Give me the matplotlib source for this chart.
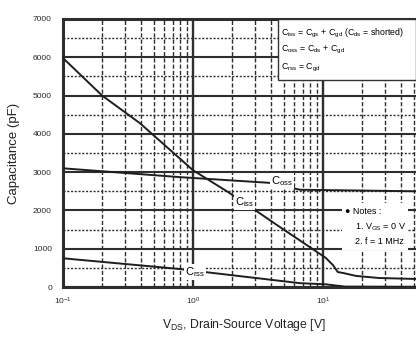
import matplotlib
matplotlib.use("Agg")
import matplotlib.pyplot as plt
from matplotlib.ticker import MultipleLocator, LogLocator, FixedLocator, NullFormatter
from matplotlib.patches import Rectangle

plt.rcParams['font.family'] = ['Liberation Sans', 'DejaVu Sans']
plt.rcParams['mathtext.fontset'] = 'custom'
plt.rcParams['mathtext.rm'] = 'Liberation Sans'
plt.rcParams['mathtext.it'] = 'Liberation Sans:italic'

# Data
ciss_v = [0.1, 0.2, 0.39, 1.0, 1.86, 3.0, 4.2, 10.5, 11.9, 13.0, 14.3, 17.9, 26.9, 52.0]
ciss_c = [5980, 5000, 4280, 3050, 2480, 2010, 1670, 760, 575, 390, 365, 290, 235, 210]
coss_v = [0.1, 0.79, 3.9, 6.65, 52.0]
coss_c = [3100, 2870, 2720, 2540, 2500]
crss_v = [0.1, 0.79, 1.24, 6.65, 10.5, 14.8, 52.0]
crss_c = [750, 470, 390, 100, 70, 10, 5]

yticks = [0, 1000, 2000, 3000, 4000, 5000, 6000, 7000]
ytick_labels = ['0', '1000', '2000', '3000', '4000', '5000', '6000', '7000']
xticks = [0.1, 1, 10]
xtick_labels = [r'$10^{-1}$', r'$10^{0}$', r'$10^{1}$']

fig = plt.figure(figsize=(4.16, 3.39), dpi=100)
ax = fig.add_axes([63/416, 1-287/339, (416-63)/416, (287-19)/339])

lc = '#1e1e1e'
ax.plot(ciss_v, ciss_c, color=lc, lw=1.4, zorder=4)
ax.plot(coss_v, coss_c, color=lc, lw=1.4, zorder=4)
ax.plot(crss_v, crss_c, color=lc, lw=1.4, zorder=4)

ax.set_xscale('log')
ax.set_xlim(0.1, 10**1.715)
ax.set_ylim(0, 7000)

ax.yaxis.set_major_locator(FixedLocator(yticks))
ax.set_yticklabels(ytick_labels)
ax.yaxis.set_minor_locator(MultipleLocator(500))
ax.xaxis.set_major_locator(FixedLocator(xticks))
ax.set_xticklabels(xtick_labels)
ax.xaxis.set_minor_locator(LogLocator(base=10, subs=[2, 3, 4, 5, 6, 7, 8, 9]))
ax.xaxis.set_minor_formatter(NullFormatter())

ax.tick_params(which='both', length=0, labelsize=6, colors='#2a2a2a')
ax.tick_params(axis='y', pad=8)
ax.tick_params(axis='x', pad=6)

ax.yaxis.grid(True, which='major', ls='-', lw=1.5, color='#2e2e2e', zorder=1)
ax.yaxis.grid(True, which='minor', ls=(0, (1.5, 1.2)), lw=1.0, color='#2e2e2e', zorder=1)
ax.xaxis.grid(True, which='major', ls='-', lw=1.7, color='#2e2e2e', zorder=1)
ax.xaxis.grid(True, which='minor', ls=(0, (3, 1.5)), lw=1.0, color='#2e2e2e', zorder=1)
ax.set_axisbelow(True)

for s in ['left', 'bottom', 'top']:
    ax.spines[s].set_linewidth(2.2)
    ax.spines[s].set_color('#2e2e2e')
ax.spines['right'].set_visible(False)

ax.set_ylabel('Capacitance (pF)', fontsize=9.5, color='#222222', labelpad=9)
ax.set_xlabel(r'V$_{\mathrm{DS}}$, Drain-Source Voltage [V]', fontsize=8.8, color='#222222')
ax.xaxis.label.set_va('center')
ax.xaxis.set_label_coords((244-63)/353, -(325-287)/268)

# curve labels
bb = dict(facecolor='white', edgecolor='none', pad=0.6)
ax.text(2.5, 2220, r'C$_{\mathrm{iss}}$', fontsize=8, ha='center', va='center', bbox=bb, zorder=5)
ax.text(4.84, 2770, r'C$_{\mathrm{oss}}$', fontsize=8, ha='center', va='center', bbox=bb, zorder=5)
ax.text(1.04, 390, r'C$_{\mathrm{rss}}$', fontsize=8, ha='center', va='center', bbox=bb, zorder=5)

# formula box
x0 = (278-63)/353
y0 = (287-80)/268
ax.add_patch(Rectangle((x0, y0), 1-x0, 1-y0, transform=ax.transAxes,
                       facecolor='white', edgecolor='#333333', lw=1.0, zorder=3))
fs = 6.3
ax.text(x0+0.008, (287-33)/268, r'C$_{\mathrm{iss}}$ = C$_{\mathrm{gs}}$ + C$_{\mathrm{gd}}$ (C$_{\mathrm{ds}}$ = shorted)',
        transform=ax.transAxes, fontsize=fs, va='center', ha='left', zorder=6)
ax.text(x0+0.008, (287-50)/268, r'C$_{\mathrm{oss}}$ = C$_{\mathrm{ds}}$ + C$_{\mathrm{gd}}$',
        transform=ax.transAxes, fontsize=fs, va='center', ha='left', zorder=6)
ax.text(x0+0.008, (287-68)/268, r'C$_{\mathrm{rss}}$ = C$_{\mathrm{gd}}$',
        transform=ax.transAxes, fontsize=fs, va='center', ha='left', zorder=6)

# notes
nx0 = (342-63)/353
ny0 = (287-250)/268
ax.add_patch(Rectangle((nx0, ny0), (408-342)/353, (250-203)/268, transform=ax.transAxes,
                       facecolor='white', edgecolor='none', zorder=3))
nfs = 6.5
ax.text((345-63)/353, (287-212)/268, '\u25cf Notes :', transform=ax.transAxes,
        fontsize=nfs, va='center', ha='left', zorder=6)
ax.text((355-63)/353, (287-227)/268, r'1. V$_{\mathrm{GS}}$ = 0 V', transform=ax.transAxes,
        fontsize=nfs, va='center', ha='left', zorder=6)
ax.text((355-63)/353, (287-242)/268, '2. f = 1 MHz', transform=ax.transAxes,
        fontsize=nfs, va='center', ha='left', zorder=6)

fig.savefig('out.png', dpi=100)
